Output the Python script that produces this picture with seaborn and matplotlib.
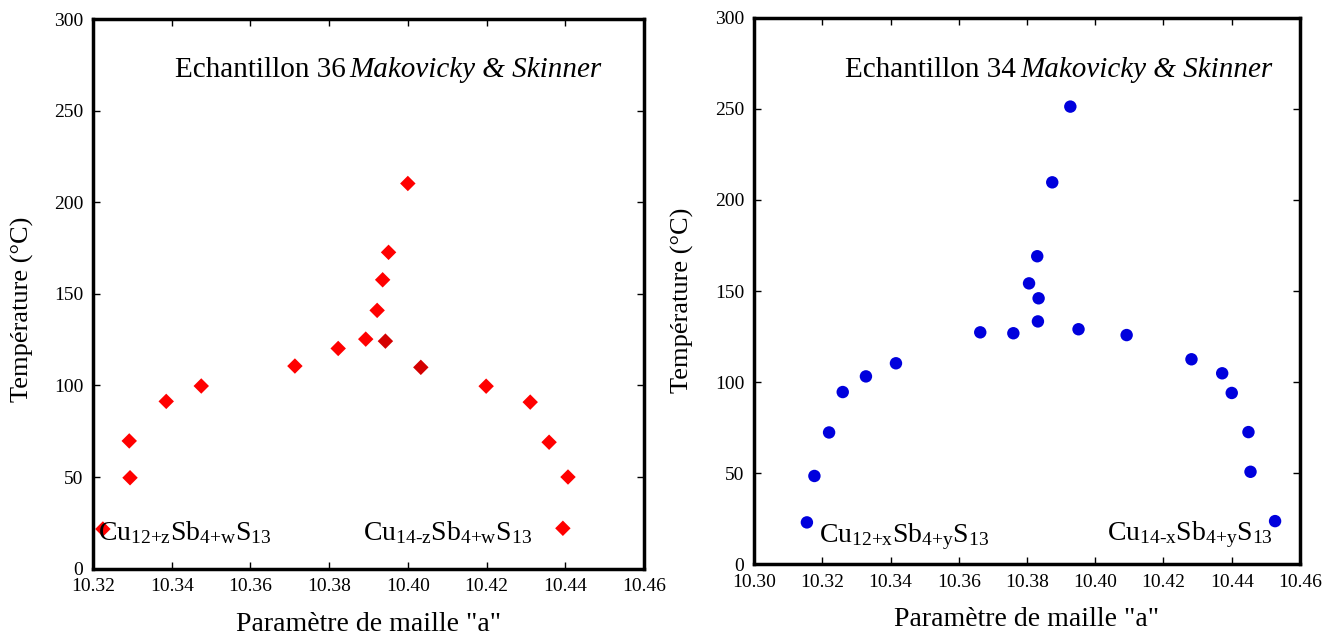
import numpy as np
import pandas as pd
import matplotlib
matplotlib.use("Agg")
import matplotlib.pyplot as plt
import seaborn as sns

# Echantillon 36 (losanges rouges)
a_36 = [10.3225, 10.3292, 10.3294, 10.3386, 10.3475, 10.3713, 10.3823, 10.3893,
        10.3922, 10.3936, 10.3951, 10.4000, 10.4199, 10.4311, 10.4359, 10.4407, 10.4394,
        10.3943, 10.4033]
t_36 = [21.6, 69.7, 49.6, 91.3, 99.7, 110.6, 120.2, 125.3,
        141.0, 157.7, 172.7, 210.3, 99.6, 90.9, 69.0, 50.0, 22.0,
        124.2, 109.9]
g_36 = ["a"] * 17 + ["b"] * 2

# Echantillon 34 (cercles bleus)
a_34 = [10.3155, 10.3177, 10.3220, 10.3260, 10.3328, 10.3416, 10.3663, 10.3760,
        10.3832, 10.3834, 10.3806, 10.3830, 10.3874, 10.3927, 10.3951, 10.4092,
        10.4282, 10.4372, 10.4400, 10.4449, 10.4455, 10.4527]
t_34 = [22.9, 48.4, 72.3, 94.5, 103.1, 110.3, 127.3, 126.8,
        133.3, 146.0, 154.2, 169.1, 209.7, 251.3, 129.0, 125.8,
        112.5, 104.8, 94.0, 72.5, 50.7, 23.6]

y_ticks = [0, 50, 100, 150, 200, 250, 300]
x_ticks_36 = [10.32, 10.34, 10.36, 10.38, 10.40, 10.42, 10.44, 10.46]
x_ticks_34 = [10.30, 10.32, 10.34, 10.36, 10.38, 10.40, 10.42, 10.44, 10.46]

df36 = pd.DataFrame({"a": a_36, "T": t_36, "g": g_36})
df34 = pd.DataFrame({"a": a_34, "T": t_34})

sns.set_style("white")
plt.rcParams["font.family"] = ["Liberation Serif", "DejaVu Serif"]
plt.rcParams["mathtext.fontset"] = "custom"
plt.rcParams["mathtext.rm"] = "Liberation Serif"
plt.rcParams["mathtext.it"] = "Liberation Serif:italic"
plt.rcParams["text.color"] = "black"
plt.rcParams["axes.labelcolor"] = "black"

fig = plt.figure(figsize=(13.31, 6.41), dpi=100)
ax1 = fig.add_axes([0.0699, 0.113, 0.4139, 0.857])
ax2 = fig.add_axes([0.5665, 0.120, 0.4102, 0.852])

sns.scatterplot(data=df36, x="a", y="T", hue="g", palette={"a": "#ff0000", "b": "#d40000"},
                marker="D", s=62, edgecolor="none", legend=False, ax=ax1, clip_on=False)
sns.scatterplot(data=df34, x="a", y="T", color="#0000dd", marker="o", s=80,
                edgecolor="none", legend=False, ax=ax2)

for ax, xt in [(ax1, x_ticks_36), (ax2, x_ticks_34)]:
    ax.set_xlim(xt[0], xt[-1])
    ax.set_ylim(0, 300)
    ax.set_xticks(xt)
    ax.set_xticklabels([f"{v:.2f}" for v in xt])
    ax.set_yticks(y_ticks)
    ax.tick_params(direction="in", length=5, width=1, top=True, right=True,
                   bottom=True, left=True, labelsize=14, colors="black", pad=7)
    for sp in ax.spines.values():
        sp.set_linewidth(2.5)
        sp.set_color("black")
    ax.set_xlabel('Paramètre de maille "a"', fontsize=20, labelpad=12)
    ax.set_ylabel("Température (°C)", fontsize=19)

ax1.yaxis.set_label_coords(-0.107, 0.472)
ax2.yaxis.set_label_coords(-0.110, 0.483)

# titres dans les cadres
for ax, num, xs, ys in [(ax1, "36", 0.466, 0.907), (ax2, "34", 0.487, 0.905)]:
    ax.text(xs - 0.008, ys, f"Echantillon {num}", transform=ax.transAxes,
            ha="right", va="center", fontsize=21)
    ax.text(xs, ys, "Makovicky & Skinner", transform=ax.transAxes,
            ha="left", va="center", fontsize=21, style="italic")

ax1.text(0.0096, 0.051, r"Cu$_\text{12+z}$Sb$_\text{4+w}$S$_\text{13}$",
         transform=ax1.transAxes, ha="left", va="baseline", fontsize=20)
ax1.text(0.49, 0.051, r"Cu$_\text{14-z}$Sb$_\text{4+w}$S$_\text{13}$",
         transform=ax1.transAxes, ha="left", va="baseline", fontsize=20)
ax2.text(0.1196, 0.041, r"Cu$_\text{12+x}$Sb$_\text{4+y}$S$_\text{13}$",
         transform=ax2.transAxes, ha="left", va="baseline", fontsize=20)
ax2.text(0.647, 0.043, r"Cu$_\text{14-x}$Sb$_\text{4+y}$S$_\text{13}$",
         transform=ax2.transAxes, ha="left", va="baseline", fontsize=20)

fig.savefig("out.png", dpi=100)
